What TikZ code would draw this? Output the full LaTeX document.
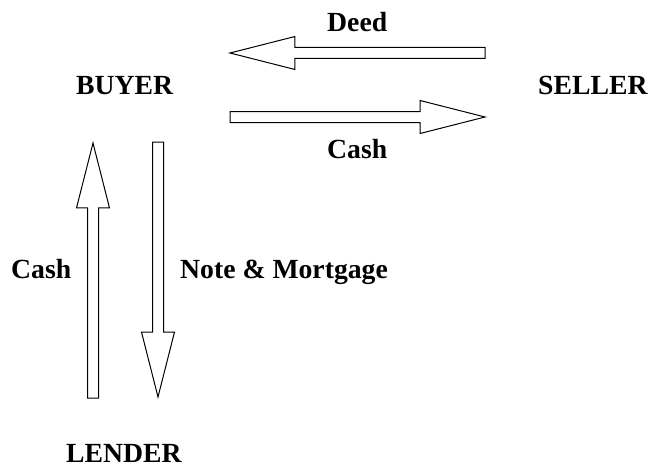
\documentclass[tikz,border=0pt]{standalone}
\usepackage{fontspec}
\setmainfont{Liberation Serif}
\usepackage{tikz}
\usetikzlibrary{shapes.arrows, positioning}

\begin{document}
\begin{tikzpicture}[x=1pt, y=-1pt,
    lbl/.style={font=\fontsize{27.7}{32}\selectfont\bfseries, inner sep=0pt, anchor=base west},
    blockarrow/.style={single arrow, draw, line width=1pt, minimum width=32pt, minimum height=255pt,
        inner sep=5pt, outer sep=0pt, single arrow head extend=11pt, single arrow tip angle=28.5, anchor=tip}]
    \useasboundingbox (0,0) rectangle (652,468);
    % 参与方
    \node[lbl] (buyer) at (76,95) {BUYER};
    \node[lbl] (seller) at (538,95) {SELLER};
    \node[lbl] (lender) at (66,462) {LENDER};
    % 箭头(空心), 以箭尖定位
    \node[blockarrow, shape border rotate=180] (deedArrow) at (230,53) {};
    \node[blockarrow] (cashArrowS) at (485,117) {};
    \node[blockarrow, shape border rotate=90] (cashArrowL) at (93,143) {};
    \node[blockarrow, shape border rotate=270] (noteArrow) at (158,397) {};
    % 箭头标记
    \node[lbl] (deed) at (327,32) {Deed};
    \node[lbl] (cashS) at (327,158) {Cash};
    \node[lbl] (cashL) at (11,278) {Cash};
    \node[lbl] (note) at (180,278) {Note \& Mortgage};
\end{tikzpicture}
\end{document}
